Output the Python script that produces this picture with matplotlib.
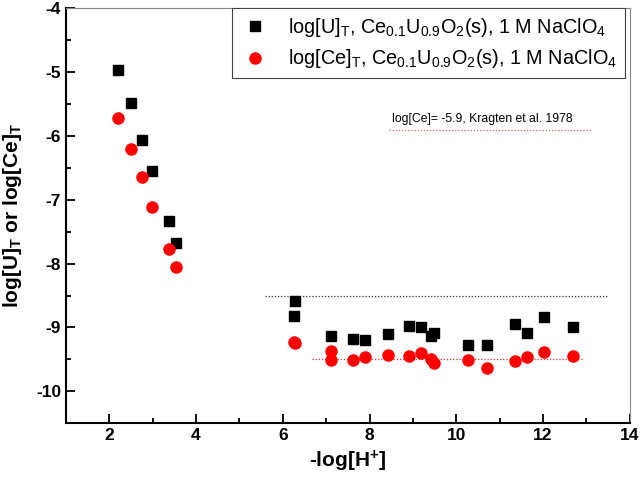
import matplotlib
matplotlib.use("Agg")
import matplotlib.pyplot as plt
from matplotlib.ticker import MultipleLocator

plt.rcParams['font.family'] = ['Liberation Sans', 'DejaVu Sans']
plt.rcParams['mathtext.fontset'] = 'custom'
plt.rcParams['mathtext.rm'] = 'Liberation Sans'
plt.rcParams['mathtext.it'] = 'Liberation Sans:italic'
plt.rcParams['mathtext.bf'] = 'Liberation Sans:bold'
plt.rcParams['axes.unicode_minus'] = False

# log[U]_T data (black squares)
u_x = [2.2, 2.49, 2.76, 2.99, 3.37, 3.54, 6.29, 6.27,
       7.12, 7.62, 7.89, 8.42, 8.92, 9.19, 9.41, 9.48,
       10.26, 10.71, 11.36, 11.63, 12.02, 12.68]
u_y = [-4.97, -5.49, -6.07, -6.55, -7.34, -7.68, -8.58, -8.82,
       -9.13, -9.18, -9.19, -9.10, -8.98, -8.99, -9.13, -9.08,
       -9.27, -9.28, -8.94, -9.08, -8.83, -9.00]

# log[Ce]_T data (red circles)
ce_x = [2.2, 2.49, 2.76, 2.99, 3.37, 3.54, 6.27, 6.29,
        7.12, 7.12, 7.62, 7.89, 8.42, 8.92, 9.19, 9.41, 9.48,
        10.26, 10.71, 11.36, 11.63, 12.02, 12.68]
ce_y = [-5.72, -6.20, -6.64, -7.11, -7.77, -8.06, -9.23, -9.25,
        -9.37, -9.51, -9.51, -9.46, -9.43, -9.45, -9.40, -9.49, -9.55,
        -9.51, -9.63, -9.53, -9.46, -9.39, -9.45]

# dotted reference lines: (y, xstart, xend)
u_level = (-8.5, 5.6, 13.5)
ce_level = (-9.5, 6.67, 12.9)
kragten = (-5.9, 8.44, 13.14)

fig = plt.figure(figsize=(6.4, 4.82), dpi=100)
ax = fig.add_axes([0.103, 0.122, 0.881, 0.861])

ax.hlines(u_level[0], u_level[1], u_level[2], colors='#333333', linestyles=(0, (1, 1.5)), lw=0.9)
ax.hlines(ce_level[0], ce_level[1], ce_level[2], colors='#e03030', linestyles=(0, (1, 1.5)), lw=0.9)
ax.hlines(kragten[0], kragten[1], kragten[2], colors='#e86060', linestyles=(0, (1, 1.5)), lw=0.9)
ax.text(8.52, -5.78, 'log[Ce]= -5.9, Kragten et al. 1978', fontsize=8.8, va='baseline')

lab_u = r'log[U]$_\mathregular{T}$, Ce$_\mathregular{0.1}$U$_\mathregular{0.9}$O$_\mathregular{2}$(s), 1 M NaClO$_\mathregular{4}$'
lab_ce = r'log[Ce]$_\mathregular{T}$, Ce$_\mathregular{0.1}$U$_\mathregular{0.9}$O$_\mathregular{2}$(s), 1 M NaClO$_\mathregular{4}$'
ax.plot(u_x, u_y, 's', color='black', ms=7.2, ls='none', label=lab_u, zorder=3)
ax.plot(ce_x, ce_y, 'o', color='red', ms=8, ls='none', label=lab_ce, zorder=3)

ax.set_xlim(1, 14)
ax.set_ylim(-10.5, -4)
ax.xaxis.set_major_locator(MultipleLocator(2))
ax.xaxis.set_minor_locator(MultipleLocator(1))
ax.yaxis.set_major_locator(MultipleLocator(1))
ax.yaxis.set_minor_locator(MultipleLocator(0.5))
ax.tick_params(which='both', direction='in', top=False, right=False, width=1.3, color='black')
ax.tick_params(which='major', length=6.5, labelsize=12.5)
ax.tick_params(which='minor', length=3.5)
for t in ax.get_xticklabels() + ax.get_yticklabels():
    t.set_fontweight('bold')

for s in ['left', 'bottom']:
    ax.spines[s].set_linewidth(1.5)
    ax.spines[s].set_color('black')
for s in ['top', 'right']:
    ax.spines[s].set_linewidth(0.8)
    ax.spines[s].set_color('#888888')

ax.set_xlabel(r'-log[H$^\mathbf{+}$]', fontsize=15, fontweight='bold')
ax.set_ylabel(r'log[U]$_\mathbf{T}$ or log[Ce]$_\mathbf{T}$', fontsize=15, fontweight='bold')
ax.yaxis.set_label_coords(-0.075, 0.5)

leg = ax.legend(loc='upper right', bbox_to_anchor=(0.992, 1.0), borderaxespad=0,
                fontsize=14.3, fancybox=False, edgecolor='#444444', framealpha=1,
                handletextpad=0.85, borderpad=0.4, labelspacing=0.42, handlelength=1.6)
leg.get_frame().set_linewidth(0.8)

fig.savefig('out.png', dpi=100)
